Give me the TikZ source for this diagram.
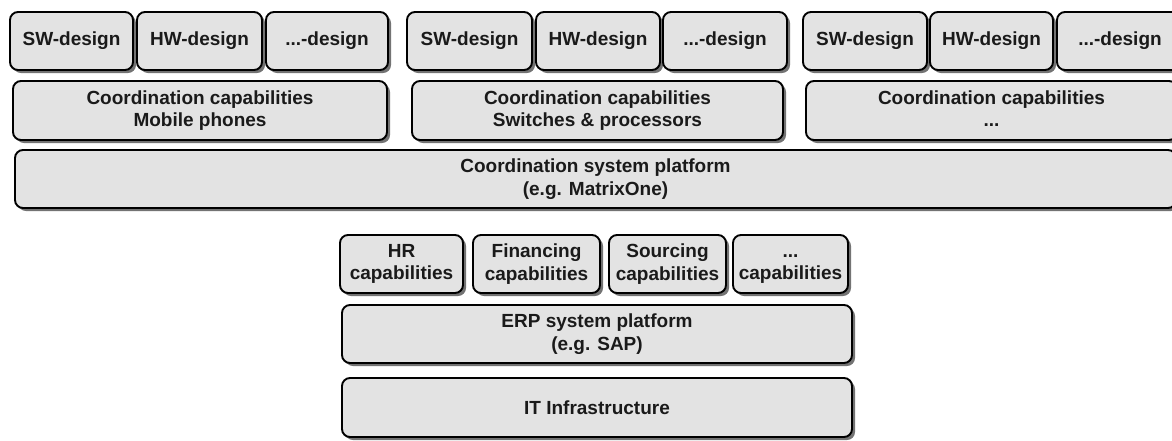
\documentclass[tikz,border=0pt]{standalone}
\usepackage{fontspec}
\setmainfont{Liberation Sans}
\usetikzlibrary{shadows}
\definecolor{boxfill}{HTML}{E3E3E3}
\definecolor{txt}{HTML}{1A1A1A}
\newcommand{\ph}{\vphantom{Hgy}}
\tikzset{
  blk/.style={draw=black, line width=1.9pt, fill=boxfill, rounded corners=8pt,
    drop shadow={shadow xshift=3pt, shadow yshift=-3pt, fill=black!55, opacity=1},
    inner sep=0pt, align=center, text=txt,
    font=\fontsize{19}{22.5}\selectfont\bfseries},
}
\begin{document}
\begin{tikzpicture}[x=1pt,y=-1pt]
\useasboundingbox (0,0) rectangle (1172,440);
\clip (0,0) rectangle (1172,440);
% group 1
\node[blk, minimum width=123pt, minimum height=58pt] (sw1) at (71.5,41) {SW-design};
\node[blk, minimum width=125pt, minimum height=58pt] (hw1) at (199.5,41) {HW-design};
\node[blk, minimum width=122pt, minimum height=58pt] (xd1) at (327,41) {...-design};
\node[blk, minimum width=374pt, minimum height=59pt] (cc1) at (200,110.5) {\ph Coordination capabilities\\\ph Mobile phones};
% group 2
\node[blk, minimum width=125pt, minimum height=58pt] (sw2) at (469.5,41) {SW-design};
\node[blk, minimum width=124pt, minimum height=58pt] (hw2) at (598,41) {HW-design};
\node[blk, minimum width=124pt, minimum height=58pt] (xd2) at (725,41) {...-design};
\node[blk, minimum width=371pt, minimum height=59pt] (cc2) at (597.5,110.5) {\ph Coordination capabilities\\\ph Switches \& processors};
% group 3
\node[blk, minimum width=124pt, minimum height=58pt] (sw3) at (865,41) {SW-design};
\node[blk, minimum width=123pt, minimum height=58pt] (hw3) at (991.5,41) {HW-design};
\node[blk, minimum width=126pt, minimum height=58pt] (xd3) at (1120,41) {...-design};
\node[blk, minimum width=371pt, minimum height=59pt] (cc3) at (991.5,110.5) {\ph Coordination capabilities\\\ph ...};
% platform
\node[blk, minimum width=1161pt, minimum height=58pt] (csp) at (595.5,179) {\ph Coordination system platform\\\ph (e.g. MatrixOne)};
% ERP capabilities
\node[blk, minimum width=123pt, minimum height=58pt] (hr) at (401.5,264) {\ph HR\\\ph capabilities};
\node[blk, minimum width=127pt, minimum height=58pt] (fin) at (536.5,264) {\ph Financing\\\ph capabilities};
\node[blk, minimum width=117pt, minimum height=58pt] (src) at (667.5,264) {\ph Sourcing\\\ph capabilities};
\node[blk, minimum width=115pt, minimum height=58pt] (oth) at (790.5,264) {\ph ...\\\ph capabilities};
\node[blk, minimum width=510pt, minimum height=58pt] (erp) at (597,334) {\ph ERP system platform\\\ph (e.g. SAP)};
\node[blk, minimum width=510pt, minimum height=59pt] (it) at (597,407.5) {IT Infrastructure};
\end{tikzpicture}
\end{document}
